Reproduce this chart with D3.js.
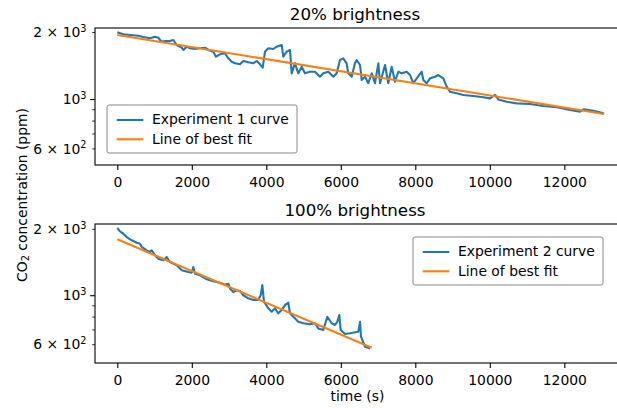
<!DOCTYPE html>
<html>
<head>
<meta charset="utf-8">
<script src="https://cdn.jsdelivr.net/npm/d3@7"></script>
<style>
  body { margin: 0; background: #fff; }
  svg { display: block; font-family: "DejaVu Sans", sans-serif; }
</style>
</head>
<body>
<svg id="chart"></svg>
<script>
// experiment 1 (20% brightness): [time s, CO2 ppm]
var exp1 = [[0,2004],[161,1963],[341,1949],[564,1935],[698,1909],[878,1883],[1012,1915],[1101,1895],[1192,1818],[1281,1831],[1415,1831],[1503,1850],[1595,1757],[1729,1709],[1772,1669],[1863,1727],[1952,1698],[2086,1686],[2220,1698],[2354,1709],[2443,1669],[2577,1640],[2650,1557],[2757,1596],[2891,1613],[2980,1531],[3071,1478],[3160,1454],[3294,1439],[3383,1489],[3517,1469],[3651,1454],[3742,1489],[3831,1439],[3903,1390],[3965,1640],[4054,1698],[4188,1686],[4279,1727],[4413,1757],[4456,1557],[4548,1640],[4636,1669],[4681,1311],[4769,1454],[4859,1311],[4950,1404],[5038,1311],[5173,1333],[5307,1333],[5441,1266],[5530,1311],[5664,1333],[5799,1266],[5890,1311],[5978,1504],[6067,1531],[6157,1454],[6200,1311],[6293,1266],[6380,1454],[6427,1504],[6516,1429],[6561,1224],[6650,1266],[6738,1183],[6829,1311],[6918,1183],[7007,1454],[7053,1183],[7187,1429],[7275,1183],[7366,1404],[7455,1202],[7544,1333],[7635,1311],[7769,1333],[7858,1288],[7947,1183],[8038,1245],[8172,1333],[8215,1224],[8306,1183],[8395,1245],[8529,1266],[8618,1288],[8752,1245],[8843,1142],[8932,1084],[9112,1066],[9289,1048],[9557,1037],[9826,1023],[10006,1012],[10140,1048],[10228,1001],[10454,977],[10722,961],[11080,954],[11436,935],[11796,923],[12153,897],[12421,882],[12529,904],[12779,891],[13004,872],[13066,861]]

// experiment 2 (100% brightness)
var exp2 = [[0,2027],[72,1958],[161,1910],[252,1845],[387,1783],[521,1739],[609,1721],[655,1663],[789,1606],[878,1578],[923,1606],[1012,1524],[1101,1472],[1235,1447],[1326,1497],[1415,1421],[1595,1373],[1729,1304],[1906,1280],[1997,1271],[2040,1349],[2086,1258],[2220,1237],[2400,1187],[2577,1162],[2757,1145],[2891,1122],[2980,1133],[3026,1076],[3114,1039],[3205,1058],[3294,1050],[3383,1005],[3517,973],[3651,956],[3785,956],[3850,1007],[3893,1118],[3938,939],[4054,877],[4145,846],[4234,877],[4322,832],[4413,861],[4502,907],[4591,930],[4636,832],[4725,803],[4859,762],[4993,750],[5173,742],[5307,750],[5396,711],[5530,699],[5638,803],[5756,750],[5844,737],[5906,762],[5960,818],[5997,699],[6113,671],[6247,676],[6470,687],[6516,762],[6542,652],[6650,587],[6784,577]]

// best fit lines (straight on the log axis, so two ends are enough)
var fit1 = [[0,1950],[13066,861]]
var fit2 = [[0,1802],[6830,581]]

var titles = ["20% brightness", "100% brightness"]
var legendNames = [["Experiment 1 curve", "Line of best fit"], ["Experiment 2 curve", "Line of best fit"]]

var xTicks = [0, 2000, 4000, 6000, 8000, 10000, 12000]
var yTicks = [600, 1000, 2000]
var yTickBase = ["6 × 10", "10", "2 × 10"]
var yTickExp = ["2", "3", "3"]
var yMinor = [700, 800, 900]

var W = 617, H = 408
var svg = d3.select("#chart").attr("width", W).attr("height", H)

var L = 95, R = 620
var panels = [
  { top: 28, bottom: 165, ydom: [508, 2095], curve: exp1, fit: fit1, legend: { x: 107, y: 105, w: 190, h: 48 } },
  { top: 224, bottom: 363, ydom: [495.5, 2114], curve: exp2, fit: fit2, legend: { x: 413, y: 237, w: 190, h: 48 } }
]

var x = d3.scaleLinear().domain([-598.7, 13495]).range([L, R])
var fs = 13.9

panels.forEach(function (p, k) {
  var y = d3.scaleLog().domain(p.ydom).range([p.bottom, p.top])
  var g = svg.append("g")

  var line = d3.line().x(d => x(d[0])).y(d => y(d[1]))

  g.append("path").datum(p.curve)
    .attr("d", line)
    .attr("fill", "none")
    .attr("stroke", "#1f77b4")
    .attr("stroke-width", 2.1)
    .attr("stroke-linejoin", "round")

  g.append("path").datum(p.fit)
    .attr("d", line)
    .attr("fill", "none")
    .attr("stroke", "#ff7f0e")
    .attr("stroke-width", 2.1)

  // frame
  g.append("rect")
    .attr("x", L).attr("y", p.top)
    .attr("width", R - L).attr("height", p.bottom - p.top)
    .attr("fill", "none").attr("stroke", "#000").attr("stroke-width", 1.1)

  // x axis
  var xa = g.append("g").attr("transform", `translate(0,${p.bottom})`)
    .call(d3.axisBottom(x).tickValues(xTicks).tickSize(4.9).tickPadding(4.9).tickFormat(d3.format("d")))
  xa.select(".domain").remove()
  xa.selectAll("line").attr("stroke", "#000").attr("stroke-width", 1.1)
  xa.selectAll("text").attr("font-size", fs).attr("fill", "#000")
    .attr("font-family", "DejaVu Sans").attr("dy", null).attr("y", 21.5)

  // y axis, log ticks
  var ya = g.append("g").attr("transform", `translate(${L},0)`)
  ya.selectAll("line.minor").data(yMinor).enter().append("line")
    .attr("x1", 0).attr("x2", -2.8)
    .attr("y1", d => y(d)).attr("y2", d => y(d))
    .attr("stroke", "#000").attr("stroke-width", 0.8)
  ya.selectAll("line.major").data(yTicks).enter().append("line")
    .attr("x1", 0).attr("x2", d => d == 1000 ? -4.9 : -2.8)
    .attr("y1", d => y(d)).attr("y2", d => y(d))
    .attr("stroke", "#000").attr("stroke-width", d => d == 1000 ? 1.1 : 0.8)
  var lab = ya.selectAll("text.lab").data(yTicks).enter().append("text")
    .attr("x", -8.5).attr("y", d => y(d) + 4.7)
    .attr("text-anchor", "end").attr("font-size", fs).attr("fill", "#000")
  lab.append("tspan").text((d, i) => yTickBase[i])
  lab.append("tspan").text((d, i) => yTickExp[i])
    .attr("font-size", 9.7).attr("dy", -5.5)

  // title
  svg.append("text").text(titles[k])
    .attr("x", (L + R) / 2 - 2.5).attr("y", p.top - 8.5)
    .attr("text-anchor", "middle").attr("font-size", 16.7).attr("fill", "#000")

  // legend
  var lg = p.legend
  var leg = svg.append("g").attr("transform", `translate(${lg.x},${lg.y})`)
  leg.append("rect").attr("width", lg.w).attr("height", lg.h)
    .attr("rx", 2).attr("fill", "#fff").attr("fill-opacity", 0.8)
    .attr("stroke", "#8a8a8a").attr("stroke-width", 1)
  var rows = leg.selectAll("g.row").data(legendNames[k]).enter().append("g")
    .attr("transform", (d, i) => `translate(0,${15 + i * 19.3})`)
  rows.append("line")
    .attr("x1", 9.7).attr("x2", 36.3)
    .attr("stroke", (d, i) => i == 0 ? "#1f77b4" : "#ff7f0e")
    .attr("stroke-width", 2.1)
  rows.append("text").text(d => d)
    .attr("x", 45).attr("y", 4.2)
    .attr("font-size", fs).attr("fill", "#000")
})

// axis labels
var yl = svg.append("text")
  .attr("transform", "translate(26.5,195) rotate(-90)")
  .attr("text-anchor", "middle").attr("font-size", fs).attr("fill", "#000")
yl.append("tspan").text("CO")
yl.append("tspan").text("2").attr("font-size", 9.7).attr("dy", 2.5)
yl.append("tspan").text(" concentration (ppm)").attr("dy", -2.5)

svg.append("text").text("time (s)")
  .attr("x", 357.5).attr("y", 401)
  .attr("text-anchor", "middle").attr("font-size", fs).attr("fill", "#000")
</script>
</body>
</html>
